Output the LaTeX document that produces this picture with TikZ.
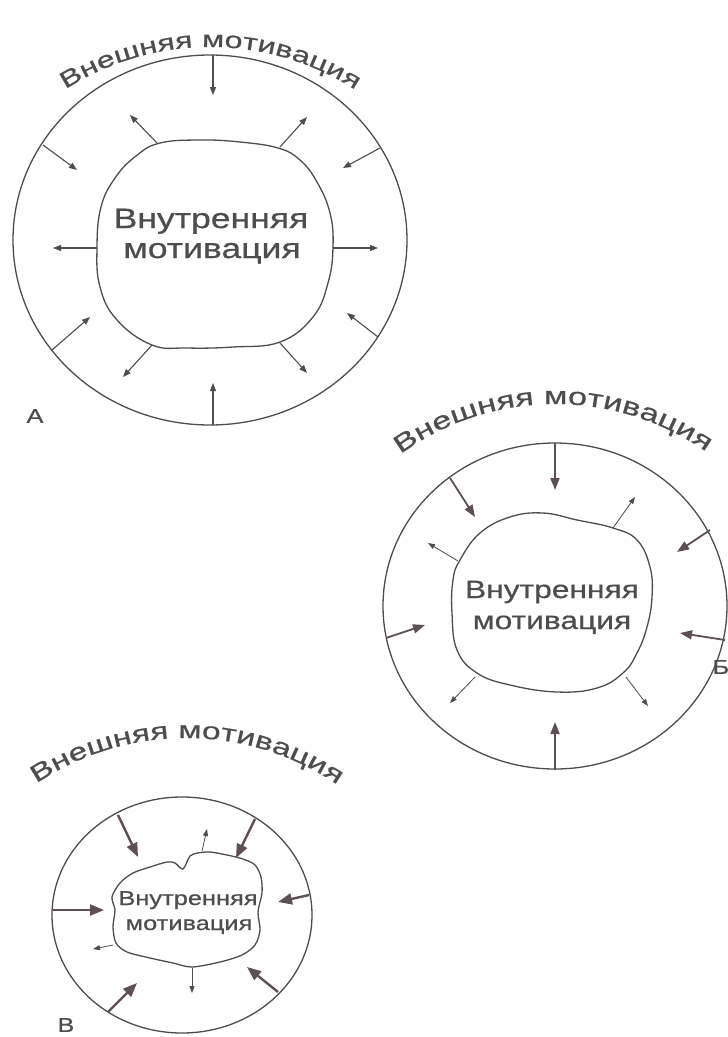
\documentclass[tikz,border=0pt]{standalone}
\usepackage{fontspec}
\setmainfont{Liberation Sans}
\newfontfamily\widefont[FakeStretch=1.27,FakeBold=0.6]{Liberation Sans}
\newfontfamily\arcfont[FakeStretch=1.4,FakeBold=0.7]{Liberation Sans}
\usetikzlibrary{arrows.meta,decorations.text}
\definecolor{ink}{HTML}{4D4D4D}
\definecolor{inkred}{HTML}{5E5052}
\begin{document}
\begin{tikzpicture}[x=1pt,y=1pt,
  ring/.style={draw=ink,line width=1.3pt},
  blobline/.style={draw=ink,line width=1.3pt},
  armA/.style={draw=ink,line width=1.1pt,-{Triangle[length=8pt,width=6pt]}},
  thinarm/.style={draw=ink,line width=0.8pt,-{Triangle[length=7pt,width=5pt]}},
  thickB/.style={draw=inkred,line width=1.8pt,-{Triangle[length=12pt,width=9pt]}},
  thickC/.style={draw=inkred,line width=2.4pt,-{Triangle[length=14pt,width=11pt]}},
  inner/.style={text=ink,anchor=base,inner sep=0pt,font=\widefont\fontsize{#1}{#1}\selectfont},
  lbl/.style={text=ink,inner sep=0pt,font=\widefont\fontsize{20}{20}\selectfont},
  arctext/.style={decorate,decoration={text along path,text align=center,
    text={|\color{ink}|Внешняя мотивация}}},
]
\useasboundingbox (0,0) rectangle (728,-1037);
\fill[white] (0,0) rectangle (728,-1037);

% ---------------- A ----------------
\draw[ring] (210,-240) ellipse[x radius=197,y radius=185];
\draw[blobline] plot[smooth cycle,tension=0.7] coordinates {(160,-143) (200,-140) (240,-142) (278,-148) (300,-160) (317,-182) (330,-213) (333,-247) (328,-283) (313,-317) (280,-342) (233,-347) (187,-348) (152,-345) (117,-320) (100,-287) (97,-247) (101,-207) (115,-178) (136,-156)};
\node[inner=28] (inA1) at (211,-228) {Внутренняя};
\node[inner=28] (inA2) at (212,-258) {мотивация};
\foreach \x/\y/\u/\v in {213/55/213/95, 43/145/77/170, 380/148/343/168, 52/350/90/317, 378/337/347/313, 213/425/213/383,
  157/143/130/115, 280/147/307/117, 97/248/53/248, 333/248/378/248, 152/345/123/377, 280/343/307/373}
  \draw[armA] (\x,-\y) -- (\u,-\v);
{\arcfont\fontsize{23}{23}\selectfont
\path[arctext] ([shift={(122:268)}]210,-315) arc[start angle=122,end angle=57.8,radius=268];}
\node[lbl] (labA) at (35,-416) {А};

% ---------------- Б ----------------
\draw[ring] (555,-606) ellipse[x radius=172,y radius=163];
\draw[blobline] plot[smooth cycle,tension=0.7] coordinates {(460,-560) (480,-533) (510,-517) (543,-513) (577,-520) (613,-528) (637,-540) (650,-567) (652,-597) (647,-627) (637,-653) (623,-673) (597,-688) (557,-692) (510,-685) (477,-673) (457,-650) (452,-613) (453,-580)};
\node[inner=25] (inB1) at (552,-598) {Внутренняя};
\node[inner=25] (inB2) at (552,-629) {мотивация};
\foreach \x/\y/\u/\v in {555/443/555/490, 450/478/475/517, 710/530/677/552, 386/638/425/625, 725/640/680/633, 555/770/555/722}
  \draw[thickB] (\x,-\y) -- (\u,-\v);
\foreach \x/\y/\u/\v in {613/528/635/497, 458/561/428/543, 475/677/450/703, 626/677/648/706}
  \draw[thinarm] (\x,-\y) -- (\u,-\v);
{\arcfont\fontsize{24.5}{24.5}\selectfont
\path[arctext] ([shift={(125.6:263)}]555,-667) arc[start angle=125.6,end angle=55.3,radius=263];}
\node[lbl] (labB) at (721,-667) {Б};

% ---------------- В ----------------
\draw[ring] (182,-915) ellipse[x radius=130,y radius=118];
\draw[blobline] plot[smooth cycle,tension=0.5] coordinates {(112,-897) (120,-883) (133,-873) (150,-867) (167,-862) (175,-863) (183,-869) (190,-856) (198,-853) (210,-852) (227,-855) (243,-859) (255,-865) (261,-877) (262,-893) (258,-912) (260,-930) (255,-945) (242,-955) (220,-962) (192,-967) (173,-963) (150,-958) (127,-952) (116,-943) (113,-927) (115,-910)};
\node[inner=20] (inC1) at (188,-905) {Внутренняя};
\node[inner=20] (inC2) at (189,-930) {мотивация};
\foreach \x/\y/\u/\v in {118/815/138/857, 255/819/236/858, 53/910/104/910, 309/895/278/902, 108/1012/137/983, 278/992/247/967}
  \draw[thickC] (\x,-\y) -- (\u,-\v);
\foreach \x/\y/\u/\v in {202/851/207/829, 113/945/93/949, 192/968/192/993}
  \draw[thinarm] (\x,-\y) -- (\u,-\v);
{\arcfont\fontsize{24}{24}\selectfont
\path[arctext] ([shift={(123.6:269)}]186,-1007) arc[start angle=123.6,end angle=55.9,radius=269];}
\node[lbl] (labC) at (66,-1025) {В};
\end{tikzpicture}
\end{document}
